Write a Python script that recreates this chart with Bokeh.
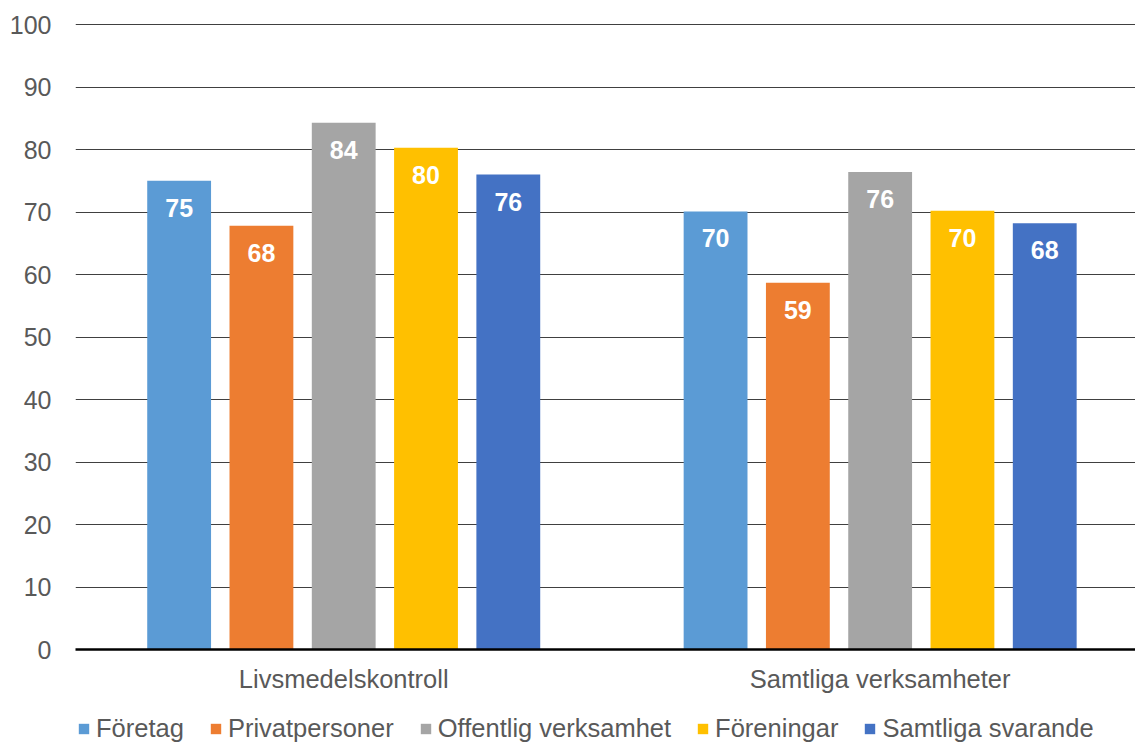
from bokeh.plotting import figure
from bokeh.layouts import column
from bokeh.models import ColumnDataSource, Range1d, Legend, LegendItem, FixedTicker
from bokeh.core.properties import value
from bokeh.embed import file_html
from bokeh.resources import INLINE

categories = ["Livsmedelskontroll", "Samtliga verksamheter"]
series = ["Företag", "Privatpersoner", "Offentlig verksamhet", "Föreningar", "Samtliga svarande"]
values = {
    "Företag": [75.0, 70.1],
    "Privatpersoner": [67.8, 58.7],
    "Offentlig verksamhet": [84.3, 76.4],
    "Föreningar": [80.3, 70.2],
    "Samtliga svarande": [76.0, 68.2],
}
colors = ["#5B9BD5", "#ED7D31", "#A5A5A5", "#FFC000", "#4472C4"]
y_ticks = [0, 10, 20, 30, 40, 50, 60, 70, 80, 90, 100]

FONT = "Liberation Sans"
W = 1135
p = figure(width=W, height=700, output_backend="svg", toolbar_location=None,
           x_range=Range1d(0, 1.976), y_range=Range1d(0, 100.5),
           min_border_left=75, min_border_right=0, min_border_top=21, min_border_bottom=51)
p.outline_line_color = None
p.xgrid.grid_line_color = None
p.ygrid.grid_line_color = "#404040"
p.ygrid.grid_line_width = 1
p.ygrid.ticker = FixedTicker(ticks=y_ticks[1:])

p.yaxis.ticker = FixedTicker(ticks=y_ticks)
p.yaxis.axis_line_color = None
p.yaxis.major_tick_line_color = None
p.yaxis.minor_tick_line_color = None
p.yaxis.major_label_text_font = FONT
p.yaxis.major_label_text_font_size = "25px"
p.yaxis.major_label_text_color = "#595959"
p.yaxis.major_label_standoff = 18

p.xaxis.ticker = FixedTicker(ticks=[i + 0.5 for i in range(len(categories))])
p.xaxis.major_label_overrides = {i + 0.5: c for i, c in enumerate(categories)}
p.xaxis.axis_line_color = "black"
p.xaxis.axis_line_width = 2.5
p.xaxis.major_tick_line_color = None
p.xaxis.minor_tick_line_color = None
p.xaxis.major_label_text_font = FONT
p.xaxis.major_label_text_font_size = "25.5px"
p.xaxis.major_label_text_color = "#595959"
p.xaxis.major_label_standoff = 9

step = 0.1534
width = 0.119
sources = []
for j, (s, c) in enumerate(zip(series, colors)):
    xs = [i + 0.5 + (j - 2) * step for i in range(len(categories))]
    ys = values[s]
    src = ColumnDataSource(dict(x=xs, top=ys, label=[f"{v:.0f}" for v in ys]))
    p.vbar(x="x", top="top", width=width, bottom=0, source=src,
           fill_color=c, line_color=None)
    p.text(x="x", y="top", text="label", source=src, text_color="white",
           text_font=value(FONT), text_font_style="bold", text_font_size="25px",
           text_align="center", text_baseline="middle", y_offset=27)
    sources.append(src)

# legend strip below the chart (its own bars lie outside its y range)
p2 = figure(width=W, height=43, output_backend="svg", toolbar_location=None,
            x_range=Range1d(0, 1.976), y_range=Range1d(200, 201),
            min_border_left=0, min_border_right=0, min_border_top=0, min_border_bottom=0)
p2.outline_line_color = None
p2.axis.visible = False
p2.grid.grid_line_color = None
items = []
for s, c, src in zip(series, colors, sources):
    rr = p2.vbar(x="x", top="top", width=width, bottom=0, source=src,
                 fill_color=c, line_color=None)
    items.append(LegendItem(label=s, renderers=[rr]))
legend = Legend(items=items, orientation="horizontal", location=(2, 0),
                label_text_font=FONT, label_text_font_size="25.5px",
                label_text_color="#595959", glyph_width=13, glyph_height=13,
                label_standoff=6, spacing=25, border_line_color=None,
                background_fill_alpha=0, padding=2, margin=0)
p2.add_layout(legend)

layout = column(p, p2, spacing=0)
open("out.html", "w").write(file_html(layout, INLINE))
